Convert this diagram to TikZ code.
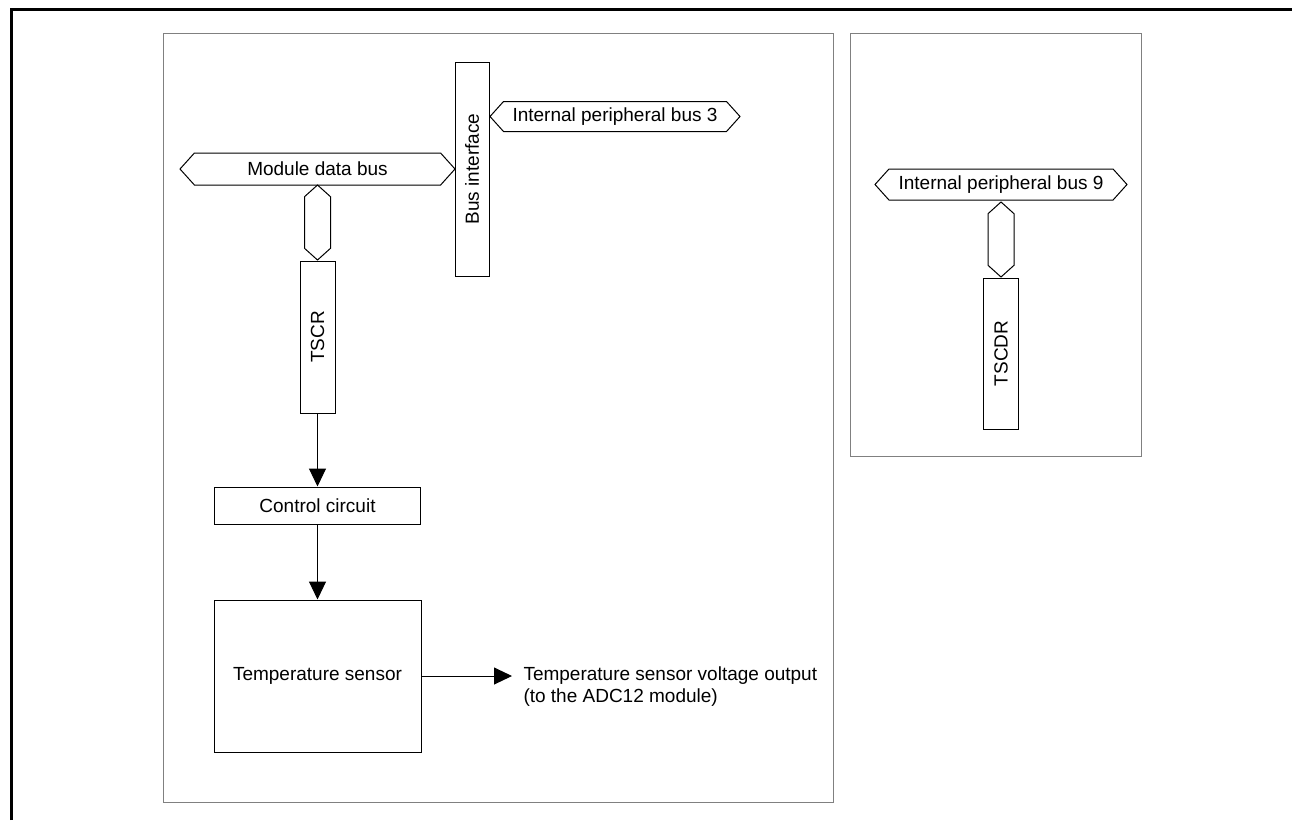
\documentclass[tikz,border=0pt]{standalone}
\usepackage{fontspec}
\setmainfont{Liberation Sans}
\usetikzlibrary{shapes.symbols,arrows.meta}

\begin{document}
\begin{tikzpicture}[
    x=1pt, y=-1pt,
    font=\fontsize{19}{22}\selectfont,
    line width=1pt,
    % register and circuit blocks
    block/.style={
        rectangle,
        draw=black,
        fill=white,
        inner sep=0pt,
        },
    regbox/.style={block, rotate=90, minimum height=35},
    % buses: hexagon with a point at both ends
    bus/.style={
        signal,
        signal to=east and west,
        signal pointer angle=96,
        draw=black,
        fill=white,
        inner sep=0pt,
        minimum height=31,
        },
    buslink/.style={bus, rotate=90, minimum width=75, minimum height=26},
    panel/.style={draw=gray, line width=1pt},
    flow/.style={-{Triangle[length=18pt,width=17pt]}},
    ]
    \useasboundingbox (0,0) rectangle (1292,820);

    % frame and the two module panels
    \draw[line width=3pt] (11,820) -- (11,9.5) -- (1292,9.5);
    \draw[panel] (163,33) rectangle (833,802);
    \draw[panel] (850,33) rectangle (1141,456);

    % left module
    \node [block, rotate=90, minimum width=214, minimum height=34] (busif) at (472,169) {Bus interface};
    \node [bus, minimum width=250, minimum height=30] (ipb3) at (615,116.5) {Internal peripheral bus 3};
    \node [bus, minimum width=275, minimum height=32] (mdb) at (317.5,169) {Module data bus};
    \node [buslink] (lnk1) at (317.5,222.5) {};
    \node [regbox, minimum width=152] (tscr) at (317.5,337) {TSCR};
    \node [block, minimum width=206, minimum height=37] (ctrl) at (317.5,505.5) {Control circuit};
    \node [block, minimum width=207, minimum height=152] (tsens) at (317.5,676) {Temperature sensor};
    \node [anchor=west, align=left, inner sep=0pt] (vout) at (523,687) {Temperature sensor voltage output\\(to the ADC12 module)};
    \coordinate (vtip) at (512,676);

    \draw[flow] (tscr.west) -- (ctrl.north);
    \draw[flow] (ctrl.south) -- (tsens.north);
    \draw[flow] (tsens.east) -- (vtip);

    % right module
    \node [bus, minimum width=252] (ipb9) at (1001,184.5) {Internal peripheral bus 9};
    \node [buslink] (lnk2) at (1001,239.5) {};
    \node [regbox, minimum width=151] (tscdr) at (1001,353.5) {TSCDR};

\end{tikzpicture}
\end{document}
